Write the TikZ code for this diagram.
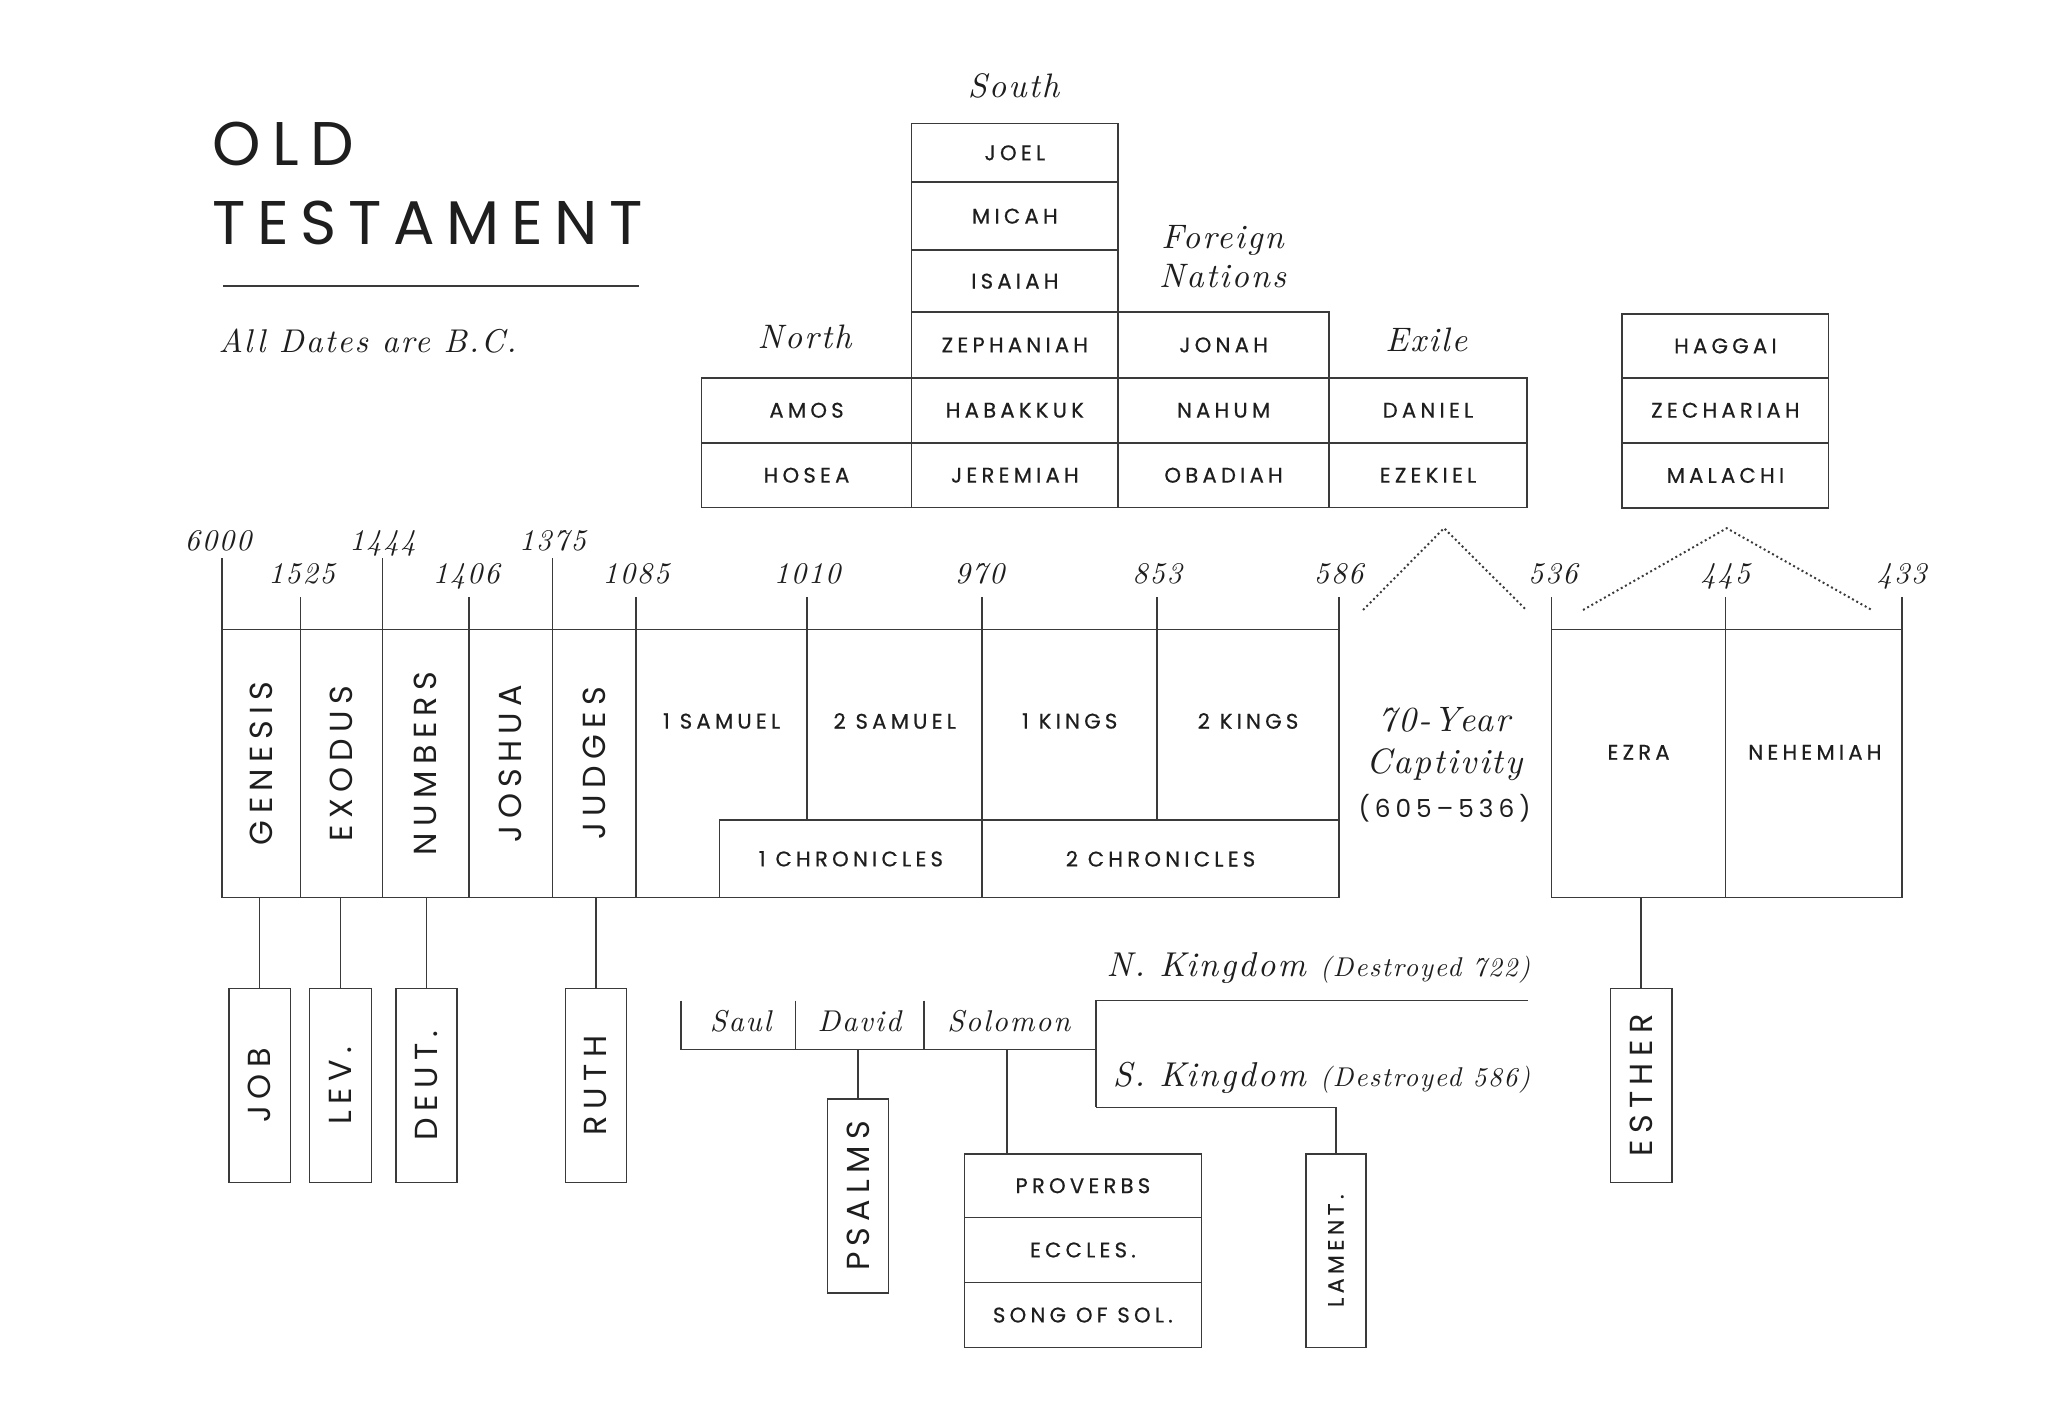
\documentclass[tikz,border=0pt]{standalone}
\usepackage{graphicx}
\usepackage{fontspec}
\newfontfamily\popL[LetterSpace=20,FakeBold=0.5]{Poppins}
\newfontfamily\popB[LetterSpace=20]{Poppins}
\newfontfamily\popT[LetterSpace=19]{Poppins}
\newfontfamily\lmI[LetterSpace=6]{lmroman10-italic.otf}
\definecolor{lc}{HTML}{3A3A3A}
\definecolor{tc}{HTML}{1E1E1E}
\newcommand\fLab{\popL\fontsize{8.1}{9.5}\selectfont}
\newcommand\fBig{\popB\fontsize{12.2}{14}\selectfont}
\newcommand\fTtl{\popT\fontsize{23.6}{28}\selectfont}
\newcommand\fItl[1]{\lmI\fontsize{#1}{#1}\selectfont}
% [options]{name}{x1}{y1}{x2}{y2}{text}
\newcommand\cellat[7][]{%
  \node[cellbox,minimum width={(#5-#3)*0.5pt},minimum height={(#6-#4)*0.5pt},#1]
    (#2) at ({(#3+#5)/2},{(#4+#6)/2}) {#7};}
\begin{document}
\begin{tikzpicture}[x=0.5pt,y=-0.5pt,
  ln/.style={draw=lc,line width=0.6pt},
  cellbox/.style={ln,inner sep=0pt,outer sep=0pt,anchor=center,text=tc,font=\fLab},
  lab/.style={inner sep=0pt,text=tc,font=\fLab},
  ital/.style={inner sep=0pt,text=tc},
  datel/.style={inner sep=0pt,text=tc,font={\fItl{11.5}},anchor=base},
  dotln/.style={draw=lc,line width=0.75pt,dash pattern=on 0.75pt off 1.1pt}
]
\useasboundingbox (0,0) rectangle (1568,1077);
\fill[white] (0,0) rectangle (1568,1077);

% ---------- title ----------
\node[anchor=base west,inner sep=0pt,text=tc,font=\fTtl] (t1) at (162,127) {OLD};
\node[anchor=base west,inner sep=0pt,text=tc,font=\fTtl] (t2) at (162,187) {TESTAMENT};
\coordinate (r1) at (171,219);
\coordinate (r2) at (489,219);
\draw[ln] (r1) -- (r2);
\node[ital,anchor=base west,font={\fItl{12.6}}] (alld) at (167,270) {All Dates are B.C.};

% ---------- prophets ----------
\node[ital,anchor=base,font={\fItl{13}}] (south) at (776,74.5) {South};
\node[ital,anchor=base,font={\fItl{13}}] (north) at (616,266.7) {North};
\node[ital,anchor=base,font={\fItl{13}}] (foreign) at (936,190) {Foreign};
\node[ital,anchor=base,font={\fItl{13}}] (nations) at (936,220) {Nations};
\node[ital,anchor=base,font={\fItl{13}}] (exile) at (1092,268.8) {Exile};

\cellat{joel}{698}{94.5}{856}{139.5}{JOEL}
\cellat{micah}{698}{139.5}{856}{191.5}{MICAH}
\cellat{isaiah}{698}{191.5}{856}{239}{ISAIAH}
\cellat{zeph}{698}{239}{856}{289.2}{ZEPHANIAH}
\cellat{hab}{698}{289.2}{856}{339}{HABAKKUK}
\cellat{jer}{698}{339}{856}{388.7}{JEREMIAH}
\cellat{amos}{537}{289.2}{698}{339}{AMOS}
\cellat{hosea}{537}{339}{698}{388.7}{HOSEA}
\cellat{jonah}{856}{239}{1017.6}{289.2}{JONAH}
\cellat{nahum}{856}{289.2}{1017.6}{339}{NAHUM}
\cellat{obad}{856}{339}{1017.6}{388.7}{OBADIAH}
\cellat{daniel}{1017.6}{289.2}{1169}{339}{DANIEL}
\cellat{ezek}{1017.6}{339}{1169}{388.7}{EZEKIEL}
\cellat{haggai}{1242}{240.5}{1400}{289.2}{HAGGAI}
\cellat{zech}{1242}{289.2}{1400}{339}{ZECHARIAH}
\cellat{mal}{1242}{339}{1400}{389}{MALACHI}

% ---------- dates ----------
\node[datel] (d6000) at (167,421.5) {6000};
\node[datel] (d1444) at (293,421.5) {1444};
\node[datel] (d1375) at (423,421.5) {1375};
\node[datel] (d1525) at (231,446.5) {1525};
\node[datel] (d1406) at (357,446.5) {1406};
\node[datel] (d1085) at (487,446.5) {1085};
\node[datel] (d1010) at (618,446.5) {1010};
\node[datel] (d970) at (750,446.5) {970};
\node[datel] (d853) at (886,446.5) {853};
\node[datel] (d586) at (1025,446.5) {586};
\node[datel] (d536) at (1189,446.5) {536};
\node[datel] (d445) at (1321,446.5) {445};
\node[datel] (d433) at (1456,446.5) {433};

% ---------- timeline ----------
\cellat[font=\fBig]{genesis}{170}{482}{230}{687}{\rotatebox{90}{GENESIS}}
\cellat[font=\fBig]{exodus}{230}{482}{293}{687}{\rotatebox{90}{EXODUS}}
\cellat[font=\fBig]{numbers}{293}{482}{359}{687}{\rotatebox{90}{NUMBERS}}
\cellat[font=\fBig]{joshua}{359}{482}{423}{687}{\rotatebox{90}{JOSHUA}}
\cellat[font=\fBig]{judges}{423}{482}{487}{687}{\rotatebox{90}{JUDGES}}
\cellat{sam2}{618}{482}{752}{628}{}
\cellat{kings1}{752}{482}{886}{628}{}
\cellat{kings2}{886}{482}{1025}{628}{}
\cellat{chron1}{551}{628}{752}{687}{1 CHRONICLES}
\cellat{chron2}{752}{628}{1025}{687}{2 CHRONICLES}
\draw[ln] (judges.north east) -- (sam2.north west);
\draw[ln] (judges.south east) -- (chron1.south west);
\node[lab] (sam1t) at (552.5,552) {1 SAMUEL};
\node[lab] (sam2t) at (685,552) {2 SAMUEL};
\node[lab] (kings1t) at (819,552) {1 KINGS};
\node[lab] (kings2t) at (955.5,552) {2 KINGS};

\cellat{ezra}{1188}{482}{1321}{687}{}
\cellat{nehem}{1321}{482}{1456}{687}{}
\node[lab] (ezrat) at (1254.5,576) {EZRA};
\node[lab] (nehemt) at (1389.5,576) {NEHEMIAH};

\coordinate (hi) at (0,427);
\coordinate (lo) at (0,457);
\draw[ln] (genesis.north west) -- (genesis.north west |- hi);
\draw[ln] (exodus.north west) -- (exodus.north west |- lo);
\draw[ln] (numbers.north west) -- (numbers.north west |- hi);
\draw[ln] (joshua.north west) -- (joshua.north west |- lo);
\draw[ln] (judges.north west) -- (judges.north west |- hi);
\draw[ln] (judges.north east) -- (judges.north east |- lo);
\draw[ln] (sam2.north west) -- (sam2.north west |- lo);
\draw[ln] (kings1.north west) -- (kings1.north west |- lo);
\draw[ln] (kings2.north west) -- (kings2.north west |- lo);
\draw[ln] (kings2.north east) -- (kings2.north east |- lo);
\draw[ln] (ezra.north west) -- (ezra.north west |- lo);
\draw[ln] (ezra.north east) -- (ezra.north east |- lo);
\draw[ln] (nehem.north east) -- (nehem.north east |- lo);

% captivity
\node[ital,anchor=base,font={\fItl{13.5}}] (cap1) at (1106,560) {70-Year};
\node[ital,anchor=base,font={\fItl{13.5}}] (cap2) at (1106,592) {Captivity};
\node[inner sep=0pt,text=tc,anchor=base,font={\popB\fontsize{9.5}{10}\selectfont}] (cap3) at (1106,626) {(605–536)};

% dotted chevrons
\coordinate (c1a) at (1043.6,467);
\coordinate (c1b) at (1105.6,404.4);
\coordinate (c1c) at (1168.5,467);
\coordinate (c2a) at (1212,467);
\coordinate (c2b) at (1322,404.4);
\coordinate (c2c) at (1433,467);
\draw[dotln] (c1a) -- (c1b) -- (c1c);
\draw[dotln] (c2a) -- (c2b) -- (c2c);

% ---------- lower books ----------
\cellat[font=\fBig]{job}{175.3}{756.7}{222.3}{905.5}{\rotatebox{90}{JOB}}
\cellat[font=\fBig]{lev}{237}{756.7}{284.3}{905.5}{\rotatebox{90}{LEV.}}
\cellat[font=\fBig]{deut}{303}{756.7}{350}{905.5}{\rotatebox{90}{DEUT.}}
\cellat[font=\fBig]{ruth}{432.8}{756.7}{479.8}{905.5}{\rotatebox{90}{RUTH}}
\cellat[font=\fBig]{esther}{1233}{756.7}{1280}{905.5}{\rotatebox{90}{ESTHER}}
\draw[ln] (job.north |- genesis.south) -- (job.north);
\draw[ln] (lev.north |- exodus.south) -- (lev.north);
\draw[ln] (deut.north |- numbers.south) -- (deut.north);
\draw[ln] (ruth.north |- judges.south) -- (ruth.north);
\draw[ln] (esther.north |- ezra.south) -- (esther.north);

% kings bracket
\node[ital,anchor=base,font={\fItl{11.5}}] (saul) at (567,790) {Saul};
\node[ital,anchor=base,font={\fItl{11.5}}] (david) at (658,790) {David};
\node[ital,anchor=base,font={\fItl{11.5}}] (solomon) at (772.3,790) {Solomon};
\coordinate (bTL) at (521.5,766);
\coordinate (bBL) at (521.5,803.4);
\coordinate (bBR) at (839.3,803.4);
\coordinate (bTR) at (839.3,766);
\coordinate (dv1) at (609,766);
\coordinate (dv2) at (707.5,766);
\draw[ln] (bTL) -- (bBL) -- (bBR);
\draw[ln] (dv1) -- (dv1 |- bBL);
\draw[ln] (dv2) -- (dv2 |- bBL);
\coordinate (nEnd) at (1170,766);
\coordinate (sCorner) at (839.3,847.8);
\draw[ln] (nEnd) -- (bTR) -- (sCorner);

\node[ital,anchor=base east,font={\fItl{13.2}}] (nk) at (1172,747.8) {N. Kingdom {\fontsize{10.4}{10}\selectfont(Destroyed 722)}};
\node[ital,anchor=base east,font={\fItl{13.2}}] (sk) at (1172,832) {S. Kingdom {\fontsize{10.4}{10}\selectfont(Destroyed 586)}};

\cellat[font=\fBig]{psalms}{633.7}{841.2}{680.3}{989.8}{\rotatebox{90}{PSALMS}}
\cellat{prov}{738.3}{883.6}{919.8}{932}{PROVERBS}
\cellat{eccl}{738.3}{932}{919.8}{982}{ECCLES.}
\cellat{song}{738.3}{982}{919.8}{1031.6}{SONG OF SOL.}
\cellat[font={\popL\fontsize{8.4}{9}\selectfont}]{lament}{999.7}{883.6}{1045.9}{1031.6}{\rotatebox{90}{LAMENT.}}
\draw[ln] (psalms.north |- bBL) -- (psalms.north);
\draw[ln] (solomon |- bBL) ++(-1.5,0) coordinate (solTop) -- (solTop |- prov.north);
\draw[ln] (sCorner) -- (sCorner -| lament.north) -- (lament.north);
\end{tikzpicture}
\end{document}
